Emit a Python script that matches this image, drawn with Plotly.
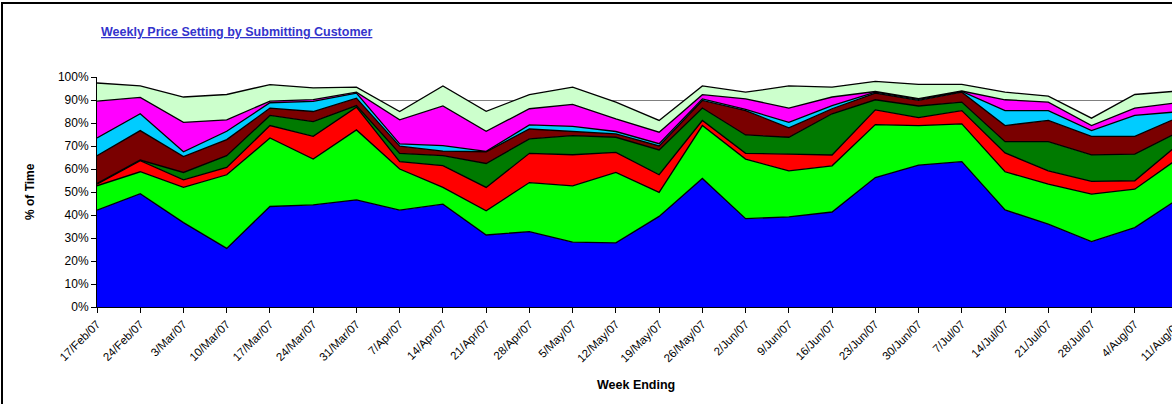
import plotly.graph_objects as go

weeks = ["17/Feb/07", "24/Feb/07", "3/Mar/07", "10/Mar/07", "17/Mar/07", "24/Mar/07",
         "31/Mar/07", "7/Apr/07", "14/Apr/07", "21/Apr/07", "28/Apr/07", "5/May/07",
         "12/May/07", "19/May/07", "26/May/07", "2/Jun/07", "9/Jun/07", "16/Jun/07",
         "23/Jun/07", "30/Jun/07", "7/Jul/07", "14/Jul/07", "21/Jul/07", "28/Jul/07",
         "4/Aug/07", "11/Aug/07"]

# % of time per submitting customer (stacked bottom -> top)
cust_a = [42.1, 49.3, 36.7, 25.5, 43.7, 44.4, 46.6, 42.1, 44.7, 31.3, 32.8, 28.2, 27.9,
          39.4, 55.9, 38.4, 39.2, 41.3, 56.3, 61.7, 63.2, 42.2, 36.0, 28.4, 34.5, 46.9]
cust_b = [10.6, 9.5, 15.3, 32.0, 29.8, 19.9, 30.4, 17.9, 7.3, 10.5, 21.3, 24.5, 30.6,
          10.4, 23.0, 25.9, 20.0, 20.1, 23.0, 17.2, 16.4, 16.6, 17.4, 20.7, 16.7, 17.6]
cust_c = [0.7, 4.8, 3.3, 3.2, 5.4, 9.9, 9.9, 3.2, 9.5, 10.2, 12.7, 13.5, 8.7,
          7.7, 2.2, 2.5, 7.3, 4.7, 6.4, 3.4, 5.8, 8.2, 5.8, 5.5, 3.7, 6.1]
cust_d = [0.3, 0.3, 3.2, 5.1, 4.4, 6.4, 0.7, 3.6, 4.3, 10.4, 6.3, 8.3, 6.6,
          10.8, 5.4, 8.0, 7.3, 17.9, 4.4, 5.1, 3.7, 4.9, 12.7, 11.5, 11.6, 5.4]
cust_e = [12.1, 12.8, 6.9, 7.0, 3.2, 4.4, 3.2, 3.1, 2.0, 5.1, 4.3, 1.8, 1.5,
          1.7, 3.3, 10.6, 4.1, 2.2, 2.9, 2.4, 4.3, 7.0, 9.2, 8.1, 7.7, 6.4]
cust_f = [7.7, 7.3, 2.1, 3.6, 2.3, 4.4, 2.2, 1.0, 2.4, 0.2, 1.8, 2.2, 1.0,
          1.0, 0.7, 0.5, 2.4, 1.4, 0.4, 0.5, 0.3, 6.5, 4.3, 2.5, 9.1, 2.5]
cust_g = [16.0, 7.1, 12.8, 5.0, 0.7, 0.8, 0.4, 10.5, 17.2, 8.7, 7.0, 9.6, 5.5,
          5.0, 1.8, 4.6, 6.2, 3.7, 0.3, 0.3, 0.2, 4.7, 3.7, 2.2, 3.2, 4.0]
cust_h = [7.9, 5.0, 11.0, 11.0, 7.2, 5.1, 2.2, 3.6, 8.7, 8.7, 6.1, 7.5, 7.3,
          5.1, 3.8, 2.9, 9.6, 4.3, 4.4, 6.2, 2.9, 3.3, 2.6, 3.2, 5.9, 5.0]

series = [cust_a, cust_b, cust_c, cust_d, cust_e, cust_f, cust_g, cust_h]
names = ["Customer A", "Customer B", "Customer C", "Customer D",
         "Customer E", "Customer F", "Customer G", "Customer H"]
colors = ["#0000FF", "#00FF00", "#FF0000", "#007A00", "#7A0000", "#00CCFF",
          "#FF00FF", "#CCFFCC"]

FONT = "Arial, Liberation Sans, sans-serif"
W, H = 1200, 404
L, R, T, B = 97, 22, 77, 97
pw, ph = W - L - R, H - T - B


def px(x):
    return (x - L) / pw


def py(y):
    return (H - B - y) / ph


fig = go.Figure()
for vals, name, col in zip(series, names, colors):
    fig.add_trace(go.Scatter(
        x=weeks, y=vals, name=name, mode="lines", stackgroup="one",
        line=dict(color="#000000", width=1.3), fillcolor=col,
        showlegend=False, hoverinfo="skip"))

fig.update_layout(
    width=W, height=H,
    margin=dict(l=L, r=R, t=T, b=B),
    paper_bgcolor="white", plot_bgcolor="white",
    font=dict(family=FONT, size=12, color="#000000"),
    xaxis=dict(
        type="category", range=[0, len(weeks) - 1],
        tickangle=-45, tickfont=dict(size=11.5),
        showline=True, linecolor="#000000", linewidth=1,
        ticks="outside", ticklen=5, tickcolor="#000000",
        showgrid=False, zeroline=False),
    yaxis=dict(
        range=[0, 100], dtick=10, ticksuffix="%",
        tickfont=dict(size=12),
        showline=True, linecolor="#000000", linewidth=1,
        ticks="outside", ticklen=5, tickcolor="#000000",
        showgrid=True, gridcolor="#808080", gridwidth=1,
        zeroline=False, layer="below traces"),
    annotations=[
        dict(text="<b><u>Weekly Price Setting by Submitting Customer</u></b>",
             xref="paper", yref="paper", x=px(99), y=py(32),
             xanchor="left", yanchor="middle", showarrow=False,
             font=dict(size=12.5, color="#3333CC", family=FONT)),
        dict(text="<b>% of Time</b>", xref="paper", yref="paper",
             x=px(30), y=py(192), textangle=-90, showarrow=False,
             xanchor="center", yanchor="middle", font=dict(size=12)),
        dict(text="<b>Week Ending</b>", xref="paper", yref="paper",
             x=px(636), y=py(385), showarrow=False,
             xanchor="center", yanchor="middle", font=dict(size=12.5)),
    ],
    shapes=[dict(type="rect", xref="paper", yref="paper",
                 x0=px(2), x1=px(W + 5), y0=py(H + 5), y1=py(3),
                 line=dict(color="#000000", width=2), layer="above")],
)

fig.write_html("out.html",
               config={"displayModeBar": False},
               post_script="document.body.style.margin='0';document.body.style.overflow='hidden';")
